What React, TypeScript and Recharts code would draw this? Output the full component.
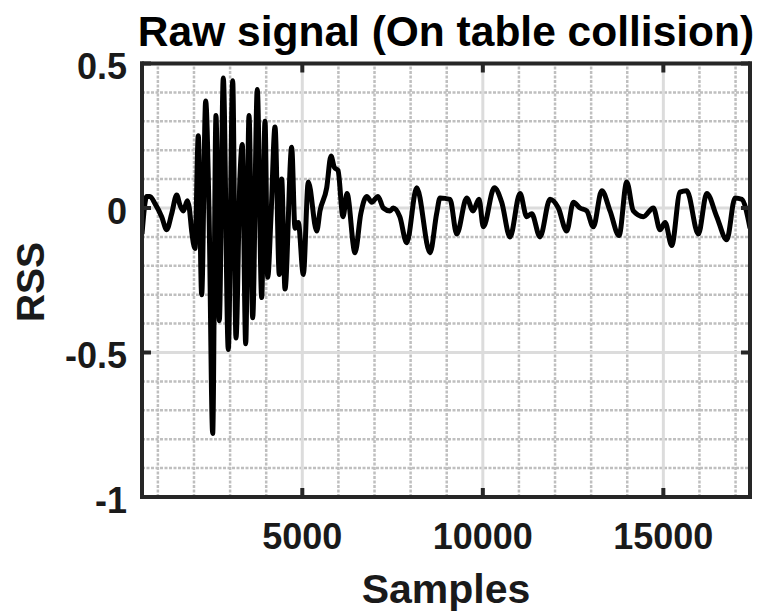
import { LineChart, Line, XAxis, YAxis, ReferenceLine } from "recharts";

// signal (sample index -> RSS)
const samples = [
  560, 690, 781, 920, 1105, 1244, 1382, 1521, 1612, 1705, 1815, 1870, 1936, 2028,
  2119, 2213, 2324, 2416, 2518, 2609, 2701, 2812, 2950, 3072, 3163, 3274, 3338,
  3432, 3524, 3626, 3753, 3875, 3967, 4042, 4133, 4244, 4363, 4429, 4521, 4706,
  4798, 4889, 5028, 5166, 5399, 5490, 5676, 5795, 5890, 5989, 6127, 6238, 6460,
  6620, 6784, 6922, 7097, 7244, 7429, 7521, 7700, 7892, 8169, 8537, 8720, 8814,
  9091, 9277, 9554, 9728, 9895, 10014, 10318, 10523, 10753, 11030, 11216, 11354,
  11584, 11861, 12091, 12324, 12507, 12692, 12878, 13061, 13294, 13523, 13773,
  13986, 14169, 14446, 14723, 14908, 15050, 15232, 15462, 15648, 15969, 16202,
  16479, 16756, 16986, 17171, 17401,
];
const rss = [
  -0.09, 0.04, 0.04, 0.015, -0.03, -0.075, -0.02, 0.045, 0.01, -0.01, 0.025, 0.0, -0.08, -0.14,
  0.25, -0.3, 0.37, -0.01, -0.78, 0.32, -0.39, 0.45, -0.49, 0.44, -0.45, 0.11, 0.22,
  -0.47, 0.32, -0.38, 0.41, -0.31, 0.3, -0.24, -0.03, 0.28, -0.23, 0.1, -0.28, 0.21,
  -0.07, -0.05, -0.23, 0.09, -0.08, -0.01, 0.07, 0.18, 0.14, 0.13, -0.03, 0.05, -0.155,
  -0.02, 0.04, 0.02, 0.04, 0.0, -0.01, 0.0, -0.03, -0.12, 0.07, -0.155, -0.02, 0.035,
  0.03, -0.09, 0.035, -0.01, 0.03, -0.065, 0.07, 0.02, -0.1, 0.05, -0.03, -0.02,
  -0.1, 0.03, 0.0, -0.08, 0.02, 0.0, -0.01, -0.065, 0.06, -0.01, -0.095,
  0.09, -0.01, -0.03, 0.0, -0.075, -0.05, -0.13, 0.055, 0.06, -0.09, 0.05,
  -0.03, -0.11, 0.035, 0.03, -0.07,
];

const xTicks = [5000, 10000, 15000];
const yTicks = [-1, -0.5, 0, 0.5];
const xMinor = [1000, 2000, 3000, 4000, 6000, 7000, 8000, 9000, 11000, 12000, 13000, 14000, 16000, 17000];
const yMinor = [-0.9, -0.8, -0.7, -0.6, -0.4, -0.3, -0.2, -0.1, 0.1, 0.2, 0.3, 0.4];
const xMajorGrid = [5000, 10000, 15000];
const yMajorGrid = [-0.5, 0];

const data = samples.map((s, i) => ({ sample: s, rss: rss[i] }));

const FONT = '"Liberation Sans", Arial, sans-serif';
const INK = "#262626";
const TICK = 9;

const BottomTick = ({ x, y, payload }: any) => (
  <g>
    <line x1={x} x2={x} y1={y} y2={y - TICK} stroke={INK} strokeWidth={4} />
    <text x={x} y={y + 52} textAnchor="middle" fontFamily={FONT} fontWeight="bold" fontSize={36} fill="#1a1a1a">
      {payload.value}
    </text>
  </g>
);
const TopTick = ({ x, y }: any) => (
  <line x1={x} x2={x} y1={y} y2={y + TICK} stroke={INK} strokeWidth={4} />
);
const LeftTick = ({ x, y, payload }: any) => (
  <g>
    <line x1={x} x2={x + TICK} y1={y} y2={y} stroke={INK} strokeWidth={4} />
    <text x={x - 15} y={y + 15.5} textAnchor="end" fontFamily={FONT} fontWeight="bold" fontSize={36} fill="#1a1a1a">
      {payload.value}
    </text>
  </g>
);
const RightTick = ({ x, y }: any) => (
  <line x1={x} x2={x - TICK} y1={y} y2={y} stroke={INK} strokeWidth={4} />
);

const axisLine = { stroke: INK, strokeWidth: 4, strokeLinecap: "square" as const };

export default function App() {
  return (
    <div style={{ position: "absolute", left: 0, top: 0, width: 764, height: 613, background: "#fff" }}>
      <LineChart width={764} height={613} data={data} margin={{ top: 62.5, right: 13, bottom: 0, left: 0 }}>
        {xMinor.map((v) => (
          <ReferenceLine key={`xm${v}`} x={v} xAxisId="b" yAxisId="l" stroke="#bfbfbf" strokeWidth={2.5} strokeDasharray="3 1.5" />
        ))}
        {yMinor.map((v) => (
          <ReferenceLine key={`ym${v}`} y={v} xAxisId="b" yAxisId="l" stroke="#bfbfbf" strokeWidth={2.5} strokeDasharray="3 1.5" />
        ))}
        {xMajorGrid.map((v) => (
          <ReferenceLine key={`xg${v}`} x={v} xAxisId="b" yAxisId="l" stroke="#dcdcdc" strokeWidth={3} />
        ))}
        {yMajorGrid.map((v) => (
          <ReferenceLine key={`yg${v}`} y={v} xAxisId="b" yAxisId="l" stroke="#dcdcdc" strokeWidth={3} />
        ))}
        <XAxis
          xAxisId="b"
          orientation="bottom"
          type="number"
          dataKey="sample"
          domain={[560, 17400]}
          allowDataOverflow
          ticks={xTicks}
          height={116}
          tickSize={0}
          tickMargin={0}
          tickLine={false}
          axisLine={axisLine}
          tick={<BottomTick />}
        />
        <XAxis
          xAxisId="t"
          orientation="top"
          type="number"
          dataKey="sample"
          domain={[560, 17400]}
          allowDataOverflow
          ticks={xTicks}
          height={1}
          tickSize={0}
          tickMargin={0}
          tickLine={false}
          axisLine={axisLine}
          tick={<TopTick />}
        />
        <YAxis
          yAxisId="l"
          orientation="left"
          type="number"
          domain={[-1, 0.5]}
          allowDataOverflow
          ticks={yTicks}
          width={142}
          tickSize={0}
          tickMargin={0}
          tickLine={false}
          axisLine={axisLine}
          tick={<LeftTick />}
        />
        <YAxis
          yAxisId="r"
          orientation="right"
          type="number"
          domain={[-1, 0.5]}
          allowDataOverflow
          ticks={yTicks}
          width={1}
          tickSize={0}
          tickMargin={0}
          tickLine={false}
          axisLine={axisLine}
          tick={<RightTick />}
        />
        {/* invisible twin so the top/right box axes get drawn */}
        <Line
          xAxisId="t"
          yAxisId="r"
          dataKey="rss"
          stroke="none"
          strokeOpacity={0}
          dot={false}
          activeDot={false}
          isAnimationActive={false}
        />
        <Line
          xAxisId="b"
          yAxisId="l"
          type="monotone"
          dataKey="rss"
          stroke="#000"
          strokeWidth={5}
          strokeLinejoin="round"
          dot={false}
          isAnimationActive={false}
        />
      </LineChart>
      <svg width={764} height={613} style={{ position: "absolute", left: 0, top: 0, pointerEvents: "none" }}>
        <text x={446} y={46} textAnchor="middle" fontFamily={FONT} fontWeight="bold" fontSize={42.5} fill="#000">
          Raw signal (On table collision)
        </text>
        <text x={446} y={603} textAnchor="middle" fontFamily={FONT} fontWeight="bold" fontSize={41} fill="#1a1a1a">
          Samples
        </text>
        <text
          x={43.5}
          y={282}
          textAnchor="middle"
          transform="rotate(-90 43.5 282)"
          fontFamily={FONT}
          fontWeight="bold"
          fontSize={39}
          fill="#1a1a1a"
        >
          RSS
        </text>
      </svg>
    </div>
  );
}
